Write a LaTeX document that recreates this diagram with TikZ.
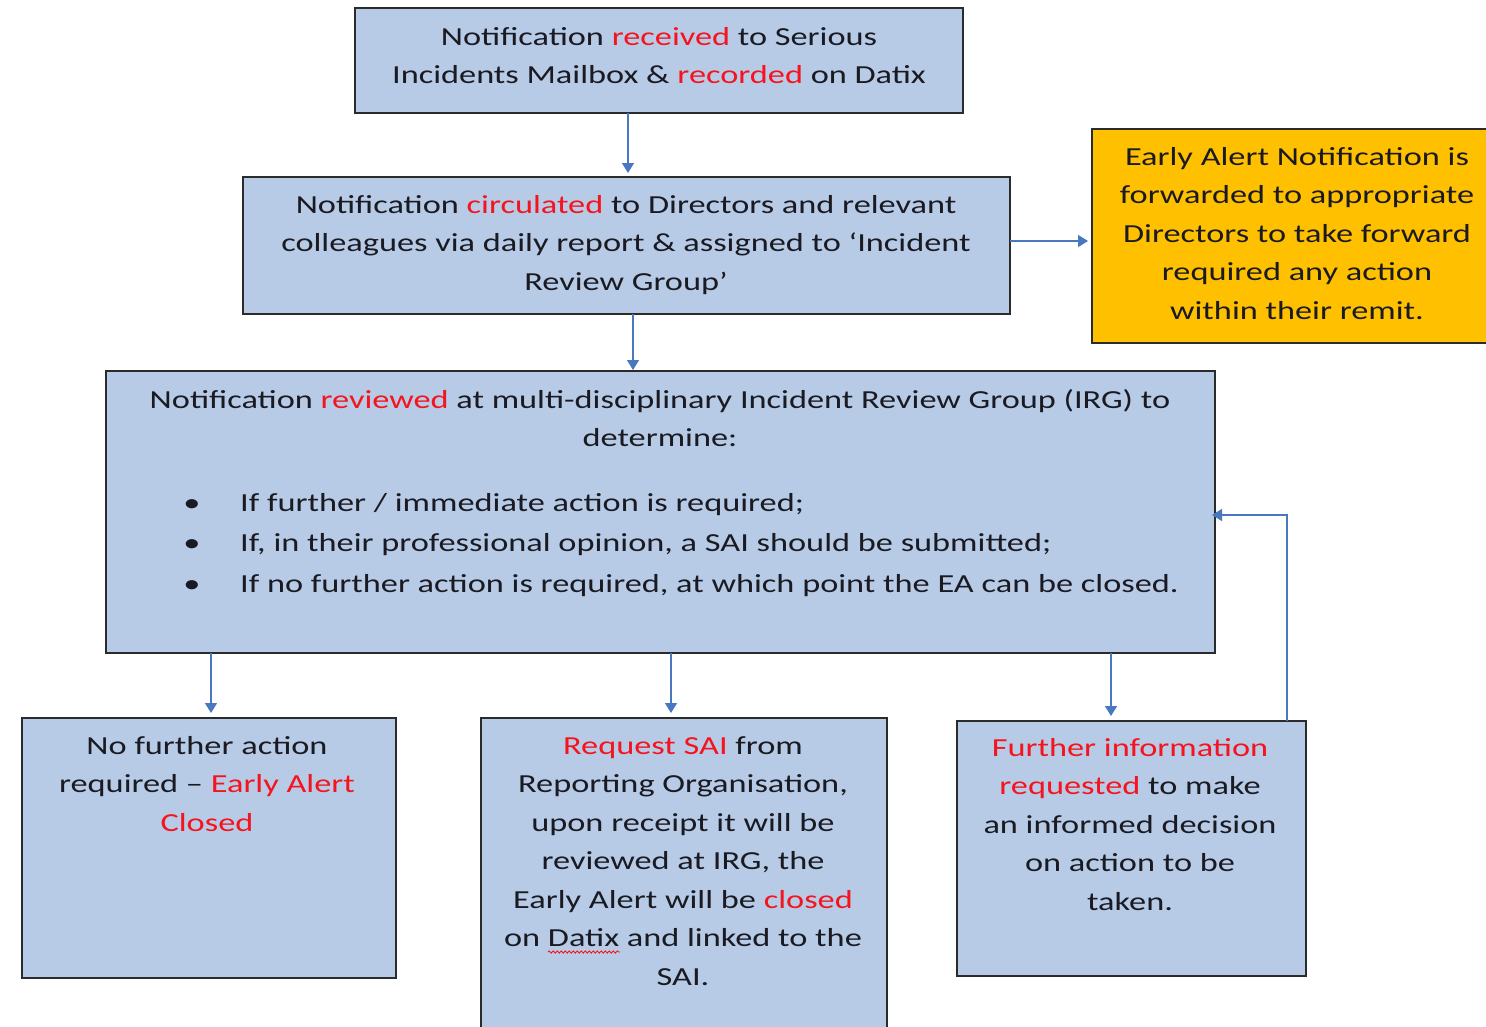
\documentclass[tikz,border=0pt]{standalone}
\usepackage{fontspec}
\setmainfont{Carlito}[FakeStretch=1.32]
\usetikzlibrary{arrows.meta,decorations.pathmorphing}
\definecolor{boxblue}{HTML}{B7CBE6}
\definecolor{boxline}{HTML}{2B2B2B}
\definecolor{arrblue}{HTML}{4A78C0}
\definecolor{gold}{HTML}{FFC000}
\definecolor{txt}{HTML}{1A1A22}
\definecolor{hl}{HTML}{F5141E}
\newcommand{\hlt}[1]{\textcolor{hl}{#1}}
\begin{document}
\begin{tikzpicture}[x=1pt,y=-1pt,
  box/.style={draw=boxline,line width=1.8pt,fill=boxblue,inner sep=0pt,outer sep=0pt},
  goldbox/.style={box,fill=gold},
  lbl/.style={inner sep=0pt,align=center,text=txt,font=\fontsize{26}{38.5}\selectfont},
  bul/.style={inner sep=0pt,text=txt,font=\fontsize{26}{38.5}\selectfont},
  arr/.style={draw=arrblue,line width=1.5pt,-{Triangle[length=10pt,width=12pt]}}]
\useasboundingbox (0,0) rectangle (1486,1026);
\fill[white] (0,0) rectangle (1486,1026);

% boxes
\node[box,minimum width=608pt,minimum height=105pt] (b1) at (659,60.5) {};
\node[box,minimum width=767pt,minimum height=137pt] (b2) at (626.5,245.5) {};
\node[goldbox,minimum width=410pt,minimum height=214pt] (ea) at (1297,236) {};
\node[box,minimum width=1109pt,minimum height=282pt] (b3) at (660.5,512) {};
\node[box,minimum width=374pt,minimum height=260pt] (b4) at (209,848) {};
\node[box,minimum width=406pt,minimum height=312pt] (b5) at (684,874) {};
\node[box,minimum width=349pt,minimum height=255pt] (b6) at (1131.5,848.5) {};

% texts
\node[lbl,anchor=north] (t1) at (659,27) {Notification \hlt{received} to Serious\\Incidents Mailbox \& \hlt{recorded} on Datix};
\node[lbl,anchor=north] (t2) at (626,195) {Notification \hlt{circulated} to Directors and relevant\\colleagues via daily report \& assigned to ‘Incident\\Review Group’};
\node[lbl,anchor=north] (tea) at (1297,147) {Early Alert Notification is\\forwarded to appropriate\\Directors to take forward\\required any action\\within their remit.};
\node[lbl,anchor=north] (t3) at (660,389) {Notification \hlt{reviewed} at multi-disciplinary Incident Review Group (IRG) to\\determine:};
\node[bul,anchor=base] (d1) at (192,511) {•};
\node[bul,anchor=base] (d2) at (192,551) {•};
\node[bul,anchor=base] (d3) at (192,592) {•};
\node[bul,anchor=base west] (l1) at (240,511) {If further / immediate action is required;};
\node[bul,anchor=base west] (l2) at (240,551) {If, in their professional opinion, a SAI should be submitted;};
\node[bul,anchor=base west] (l3) at (240,592) {If no further action is required, at which point the EA can be closed.};
\node[lbl,anchor=north] (t4) at (207,736) {No further action\\required – \hlt{Early Alert}\\\hlt{Closed}};
\node[lbl,anchor=north] (t5) at (683,736) {\hlt{Request SAI} from\\Reporting Organisation,\\upon receipt it will be\\reviewed at IRG, the\\Early Alert will be \hlt{closed}\\on Datix and linked to the\\SAI.};
\node[lbl,anchor=north] (t6) at (1130,738) {\hlt{Further information}\\\hlt{requested} to make\\an informed decision\\on action to be\\taken.};
\draw[hl,line width=0.9pt,decorate,decoration={snake,amplitude=1.1pt,segment length=4pt}] (548,952) -- (620,952);

% connectors
\coordinate (x1) at (628,0);
\coordinate (x2) at (633,0);
\coordinate (x3) at (211,0);
\coordinate (x4) at (671,0);
\coordinate (x5) at (1111,0);
\coordinate (x6) at (1287,0);
\coordinate (y1) at (0,241);
\coordinate (y2) at (0,515);
\draw[arr,shorten >=4pt] (b1.south -| x1) -- (b2.north -| x1);
\draw[arr,shorten >=4pt] (b2.east |- y1) -- (ea.west |- y1);
\draw[arr,shorten >=1pt] (b2.south -| x2) -- (b3.north -| x2);
\draw[arr,shorten >=5pt] (b3.south -| x3) -- (b4.north -| x3);
\draw[arr,shorten >=5pt] (b3.south -| x4) -- (b5.north -| x4);
\draw[arr,shorten >=5pt] (b3.south -| x5) -- (b6.north -| x5);
\draw[arr,shorten >=-3pt] (b6.north -| x6) -- (x6 |- y2) -- (b3.east |- y2);
\end{tikzpicture}
\end{document}
